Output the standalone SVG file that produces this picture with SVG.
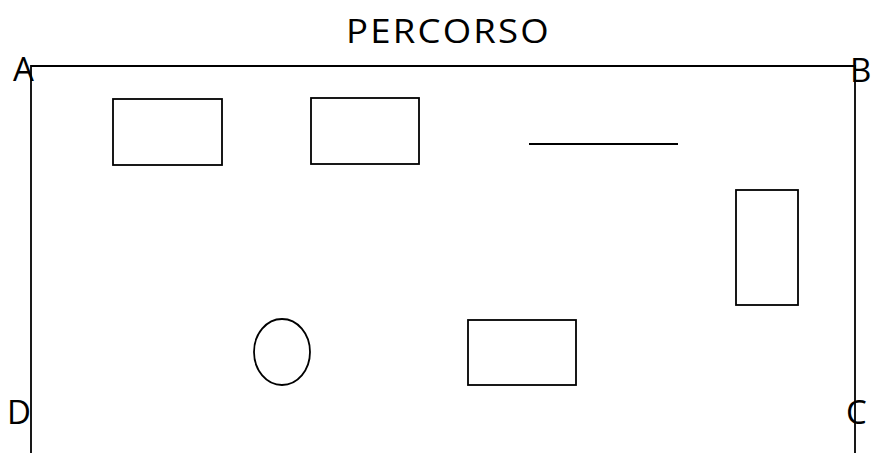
<svg xmlns="http://www.w3.org/2000/svg" width="871" height="453" viewBox="0 0 871 453">
  <style>
    .shape { fill: none; stroke: #000; stroke-width: 1.8; }
    .lbl { font-family: "Open Sans", "Noto Sans", sans-serif; font-size: 33px; fill: #000; }
    .title { font-family: "Open Sans", "Noto Sans", sans-serif; font-size: 33px; fill: #000; letter-spacing: 2px; }
  </style>
  <rect width="871" height="453" fill="#fff"/>
  <text class="title" x="346" y="43" textLength="205" lengthAdjust="spacingAndGlyphs">PERCORSO</text>
  <g id="frame">
    <path class="shape" d="M31 453 V66 H855 V453"/>
  </g>
  <g id="corner-labels">
    <text class="lbl" x="13" y="81">A</text>
    <text class="lbl" x="850" y="82">B</text>
    <text class="lbl" x="7" y="424">D</text>
    <text class="lbl" x="846" y="424">C</text>
  </g>
  <g id="obstacle-1"><rect class="shape" x="113" y="99" width="109" height="66"/></g>
  <g id="obstacle-2"><rect class="shape" x="311" y="98" width="108" height="66"/></g>
  <g id="obstacle-3"><line class="shape" x1="529" y1="144" x2="678" y2="144"/></g>
  <g id="obstacle-4"><rect class="shape" x="736" y="190" width="62" height="115"/></g>
  <g id="obstacle-5"><ellipse class="shape" cx="282" cy="352" rx="28" ry="33"/></g>
  <g id="obstacle-6"><rect class="shape" x="468" y="320" width="108" height="65"/></g>
</svg>
